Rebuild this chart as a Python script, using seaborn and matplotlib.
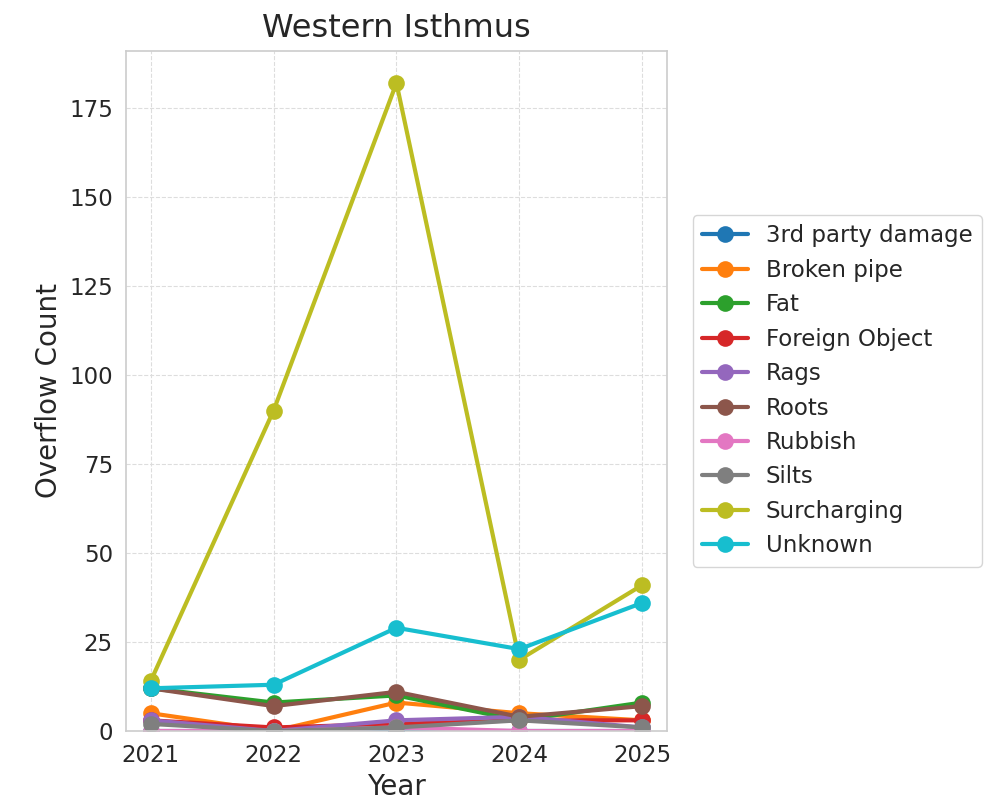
import matplotlib
matplotlib.use("Agg")
import matplotlib.pyplot as plt
import seaborn as sns
import pandas as pd

years = [2021, 2022, 2023, 2024, 2025]
third_party = [0, 0, 0, 0, 0]
broken_pipe = [5, 0, 8, 5, 3]
fat = [12, 8, 10, 3, 8]
foreign_object = [3, 1, 2, 3, 3]
rags = [3, 0, 3, 4, 1]
roots = [12, 7, 11, 4, 7]
rubbish = [0, 0, 1, 0, 0]
silts = [2, 0, 1, 3, 1]
surcharging = [14, 90, 182, 20, 41]
unknown = [12, 13, 29, 23, 36]

series = {
    "3rd party damage": third_party,
    "Broken pipe": broken_pipe,
    "Fat": fat,
    "Foreign Object": foreign_object,
    "Rags": rags,
    "Roots": roots,
    "Rubbish": rubbish,
    "Silts": silts,
    "Surcharging": surcharging,
    "Unknown": unknown,
}
rows = []
for name, vals in series.items():
    for y, v in zip(years, vals):
        rows.append({"Year": y, "Count": v, "Cause": name})
df = pd.DataFrame(rows)

sns.set_theme(style="whitegrid")
plt.rcParams["font.family"] = ["DejaVu Sans"]

fig = plt.figure(figsize=(9.85, 8.1), dpi=100)
ax = fig.add_axes([0.128, 0.0975, 0.549, 0.84])
palette = sns.color_palette("tab10", 10)
sns.lineplot(data=df, x="Year", y="Count", hue="Cause", palette=palette,
             marker="o", markersize=12, markeredgewidth=0, linewidth=3, ax=ax)

ax.set_title("Western Isthmus", fontsize=23, color="#262626", pad=10)
ax.set_xlabel("Year", fontsize=20)
ax.set_ylabel("Overflow Count", fontsize=20)
ax.set_xticks(years)
ax.set_xticklabels([str(y) for y in years])
ax.tick_params(axis="both", labelsize=16.5)
ax.set_ylim(0, 182 * 1.05)
ax.set_xlim(2020.8, 2025.2)
ax.grid(True, linestyle="--", color="#dddddd", linewidth=0.8)
for s in ax.spines.values():
    s.set_color("#cccccc")
    s.set_linewidth(1.2)

leg = ax.legend(loc="center left", bbox_to_anchor=(1.035, 0.5), fontsize=16.5,
                frameon=True, borderaxespad=0.3, handlelength=2.0)
leg.get_frame().set_edgecolor("#cccccc")

fig.savefig("out.png", dpi=100)
